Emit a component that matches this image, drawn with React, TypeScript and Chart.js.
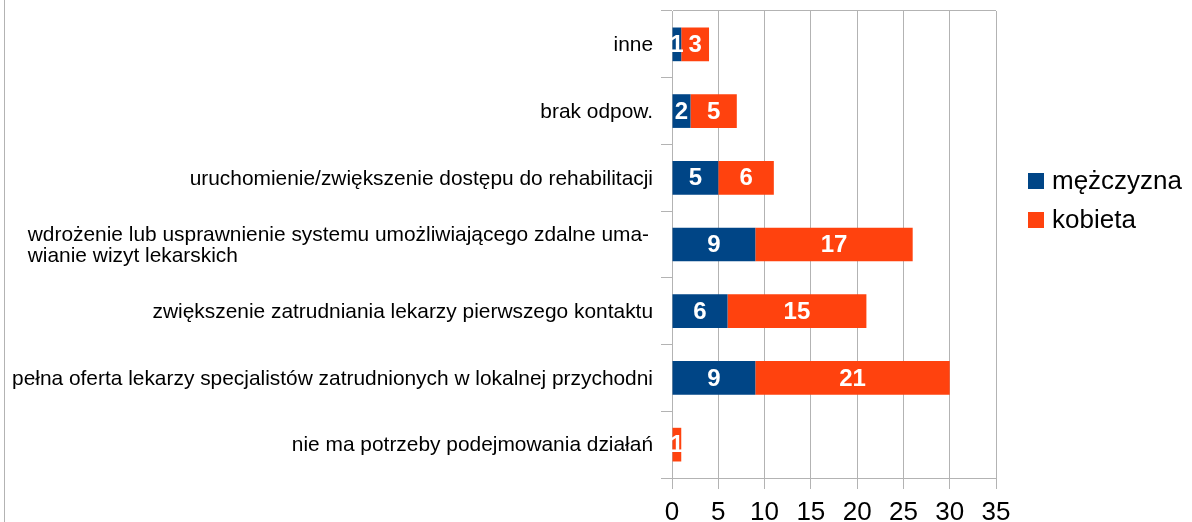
import React, { useEffect, useRef } from "react";
import { Chart, registerables } from "chart.js";

Chart.register(...registerables);

const categories: (string | string[])[] = [
  "inne",
  "brak odpow.",
  "uruchomienie/zwiększenie dostępu do rehabilitacji",
  ["wdrożenie lub usprawnienie systemu umożliwiającego zdalne uma-", "wianie wizyt lekarskich"],
  "zwiększenie zatrudniania lekarzy pierwszego kontaktu",
  "pełna oferta lekarzy specjalistów zatrudnionych w lokalnej przychodni",
  "nie ma potrzeby podejmowania działań",
];
const seriesNames = ["mężczyzna", "kobieta"];
const menValues = [1, 2, 5, 9, 6, 9, 0];
const womenValues = [3, 5, 6, 17, 15, 21, 1];
const seriesColors = ["#004586", "#ff420e"];
const xMin = 0;
const xMax = 35;
const xStep = 5;

const FONT = "'Liberation Sans', Arial, sans-serif";
const GRID = "#b3b3b3";

const customPlugin = {
  id: "customDraw",
  beforeDraw(chart: any) {
    const ctx = chart.ctx;
    ctx.save();
    ctx.strokeStyle = GRID;
    ctx.lineWidth = 1;
    ctx.beginPath();
    ctx.moveTo(4.5, 0);
    ctx.lineTo(4.5, chart.height);
    ctx.stroke();
    ctx.restore();
  },
  afterDatasetsDraw(chart: any) {
    const ctx = chart.ctx;
    ctx.save();
    ctx.font = `bold 24px ${FONT}`;
    ctx.fillStyle = "#ffffff";
    ctx.textAlign = "center";
    ctx.textBaseline = "middle";
    chart.data.datasets.forEach((ds: any, di: number) => {
      const meta = chart.getDatasetMeta(di);
      meta.data.forEach((el: any, i: number) => {
        const v = ds.data[i];
        if (!v) return;
        const cx = (el.x + el.base) / 2;
        ctx.fillText(String(v), cx, el.y + 1);
      });
    });
    ctx.restore();
  },
  afterDraw(chart: any) {
    const ctx = chart.ctx;
    const yScale = chart.scales.y;
    ctx.save();
    // category labels
    ctx.font = `20.9px ${FONT}`;
    ctx.fillStyle = "#000000";
    ctx.textBaseline = "middle";
    const rightEdge = 653;
    const lineH = 20.7;
    categories.forEach((lab, i) => {
      const y = yScale.getPixelForTick(i);
      const lines = Array.isArray(lab) ? lab : [lab];
      const widths = lines.map((l) => ctx.measureText(l).width);
      const maxW = Math.max(...widths);
      const left = (lines.length > 1 ? rightEdge - 4 : rightEdge) - maxW;
      ctx.textAlign = "left";
      lines.forEach((l, k) => {
        const ly = y + (k - (lines.length - 1) / 2) * lineH + 1;
        ctx.fillText(l, left, ly);
      });
    });
    // legend
    ctx.font = `26px ${FONT}`;
    ctx.textAlign = "left";
    const legendY = [181, 220];
    seriesNames.forEach((name, i) => {
      ctx.fillStyle = seriesColors[i];
      ctx.fillRect(1028, legendY[i] - 8, 16, 16);
      ctx.fillStyle = "#000000";
      ctx.fillText(name, 1052, legendY[i] + 1);
    });
    ctx.restore();
  },
};

export default function App() {
  const ref = useRef<HTMLCanvasElement | null>(null);
  useEffect(() => {
    if (!ref.current) return;
    const chart = new Chart(ref.current, {
      type: "bar",
      data: {
        labels: categories.map((c) => (Array.isArray(c) ? c.join(" ") : c)),
        datasets: [
          {
            label: seriesNames[0],
            data: menValues,
            backgroundColor: seriesColors[0],
            categoryPercentage: 1,
            barPercentage: 0.505,
          },
          {
            label: seriesNames[1],
            data: womenValues,
            backgroundColor: seriesColors[1],
            categoryPercentage: 1,
            barPercentage: 0.505,
          },
        ],
      },
      options: {
        indexAxis: "y",
        responsive: false,
        animation: false,
        layout: { padding: { top: 11, right: 196, left: 0, bottom: 0 } },
        plugins: {
          legend: { display: false },
          tooltip: { enabled: false },
        },
        scales: {
          x: {
            stacked: true,
            min: xMin,
            max: xMax,
            ticks: {
              stepSize: xStep,
              color: "#000000",
              font: { family: FONT, size: 26 },
              padding: 8,
            },
            grid: { color: GRID, tickColor: GRID, tickLength: 11, lineWidth: 1 },
            border: { color: GRID },
            afterFit: (scale: any) => {
              scale.height = 44;
            },
          },
          y: {
            stacked: true,
            offset: true,
            ticks: { display: false },
            grid: {
              offset: true,
              drawOnChartArea: true,
              tickLength: 11,
              tickColor: GRID,
              color: (c: any) =>
                c.type !== "tick" || c.index === 0 ? GRID : "rgba(0,0,0,0)",
            },
            border: { color: GRID },
            afterFit: (scale: any) => {
              scale.width = 672;
            },
          },
        },
      },
      plugins: [customPlugin],
    });
    return () => chart.destroy();
  }, []);
  return (
    <div style={{ position: "absolute", left: 0, top: 0, width: 1192, height: 522, background: "#fff" }}>
      <canvas ref={ref} width={1192} height={522} />
    </div>
  );
}
